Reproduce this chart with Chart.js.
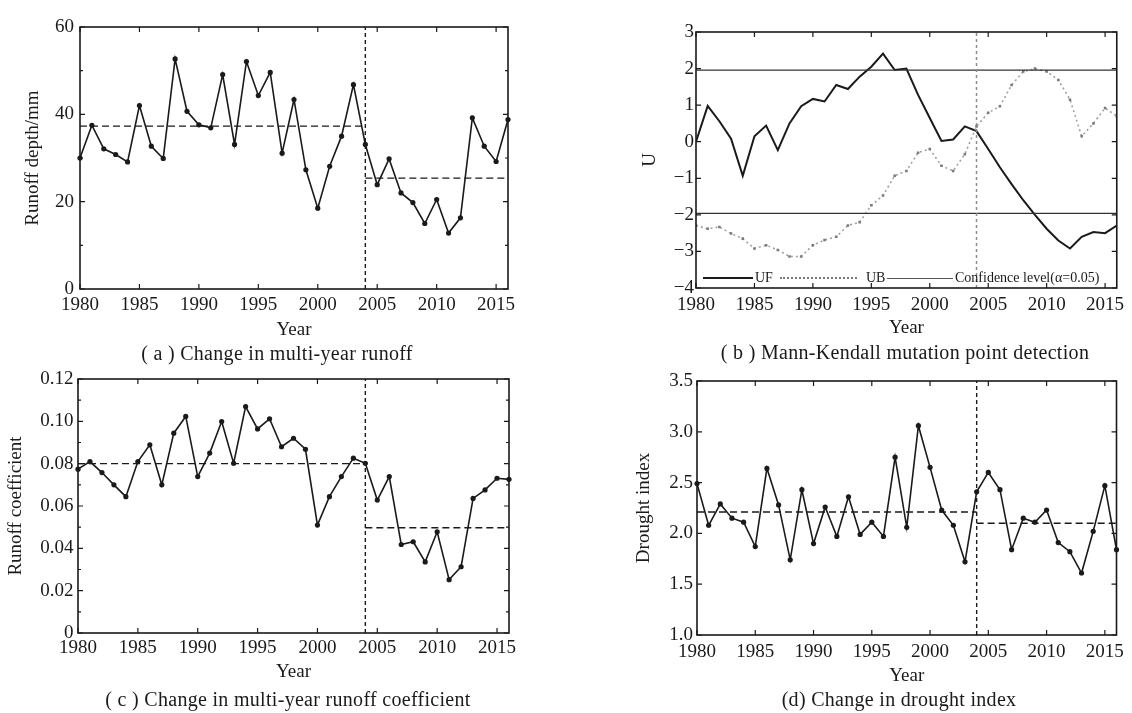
<!DOCTYPE html>
<html>
<head>
<meta charset="utf-8">
<script src="https://cdn.jsdelivr.net/npm/chart.js@4.4.1/dist/chart.umd.min.js"></script>
<style>
  body { margin: 0; background: #fff; }
  #page { position: relative; width: 1132px; height: 713px; overflow: hidden; font-family: "Liberation Serif", serif; color: #1a1a1a; }
  canvas { position: absolute; }
  .cap { position: absolute; font-size: 20px; letter-spacing: 0.3px; transform: translate(-50%, -50%); white-space: nowrap; }
  .lg { position: absolute; font-size: 14px; line-height: 1; transform: translateY(-50%); white-space: nowrap; }
  .sw { position: absolute; height: 0; }
</style>
</head>
<body>
<div id="page">
  <canvas id="chartA" width="540" height="340" style="left:0;top:0"></canvas>
  <canvas id="chartB" width="572" height="340" style="left:560px;top:0"></canvas>
  <canvas id="chartC" width="540" height="363" style="left:0;top:350px"></canvas>
  <canvas id="chartD" width="572" height="363" style="left:560px;top:350px"></canvas>

  <div class="cap" style="left:277px;top:353px">( a ) Change in multi-year runoff</div>
  <div class="cap" style="left:905px;top:352px">( b ) Mann-Kendall mutation point detection</div>
  <div class="cap" style="left:288px;top:699px">( c ) Change in multi-year runoff coefficient</div>
  <div class="cap" style="left:899px;top:699px">(d) Change in drought index</div>

  <!-- legend of (b), inside the plot frame -->
  <div class="sw" style="left:703px;top:277px;width:50px;border-top:2px solid #1a1a1a"></div>
  <div class="lg" style="left:755px;top:278px">UF</div>
  <div class="sw" style="left:780px;top:277px;width:77px;border-top:2px dotted #7a7a7a"></div>
  <div class="lg" style="left:866px;top:278px">UB</div>
  <div class="sw" style="left:887px;top:278px;width:66px;border-top:1px solid #555"></div>
  <div class="lg" style="left:955px;top:278px">Confidence level(α=0.05)</div>
</div>

<script>
const years = [1980, 1981, 1982, 1983, 1984, 1985, 1986, 1987, 1988, 1989,
  1990, 1991, 1992, 1993, 1994, 1995, 1996, 1997, 1998, 1999,
  2000, 2001, 2002, 2003, 2004, 2005, 2006, 2007, 2008, 2009,
  2010, 2011, 2012, 2013, 2014, 2015, 2016];

// (a) runoff depth, mm
const runoffDepth = [30.0, 37.5, 32.1, 30.8, 29.1, 42.0, 32.7, 29.9, 52.7, 40.7,
  37.6, 36.9, 49.1, 33.1, 52.1, 44.3, 49.6, 31.1, 43.4, 27.3,
  18.5, 28.1, 35.0, 46.8, 33.1, 23.9, 29.8, 22.0, 19.8, 15.0,
  20.5, 12.8, 16.3, 39.2, 32.7, 29.2, 38.8];

// (b) Mann-Kendall statistics
const ufStat = [0, 0.98, 0.56, 0.08, -0.93, 0.15, 0.44, -0.23, 0.5, 0.97,
  1.17, 1.1, 1.55, 1.44, 1.78, 2.05, 2.41, 1.96, 2.0, 1.28,
  0.65, 0.02, 0.06, 0.42, 0.29, -0.2, -0.7, -1.16, -1.6, -2.0,
  -2.38, -2.7, -2.92, -2.6, -2.47, -2.5, -2.29];
const ubStat = [-2.29, -2.38, -2.33, -2.51, -2.65, -2.92, -2.83, -2.96, -3.14, -3.14,
  -2.83, -2.69, -2.6, -2.29, -2.2, -1.74, -1.47, -0.93, -0.8, -0.3,
  -0.2, -0.66, -0.8, -0.34, 0.42, 0.79, 0.97, 1.55, 1.92, 2.0,
  1.92, 1.69, 1.15, 0.15, 0.5, 0.92, 0.7];
const confidence = [1.96, -1.96];

// (c) runoff coefficient
const runoffCoef = [0.0774, 0.081, 0.0758, 0.070, 0.0644, 0.081, 0.0889, 0.070, 0.0944, 0.1023,
  0.0739, 0.085, 0.0999, 0.0802, 0.107, 0.0964, 0.1012, 0.088, 0.092, 0.0868,
  0.051, 0.0644, 0.0739, 0.0826, 0.0802, 0.0628, 0.0739, 0.0418, 0.0431, 0.0336,
  0.0478, 0.0252, 0.0313, 0.0636, 0.0676, 0.0731, 0.0726];

// (d) drought index
const droughtIndex = [2.49, 2.08, 2.29, 2.15, 2.11, 1.87, 2.64, 2.28, 1.74, 2.43,
  1.90, 2.26, 1.97, 2.36, 1.99, 2.11, 1.97, 2.75, 2.06, 3.06,
  2.65, 2.23, 2.08, 1.72, 2.41, 2.60, 2.43, 1.84, 2.15, 2.11,
  2.23, 1.91, 1.82, 1.61, 2.02, 2.47, 1.84];

// mean before / after the change point
const changeYear = 2004;
const runoffMeans = [37.3, 25.4];
const coefMeans = [0.080, 0.0497];
const droughtMeans = [2.21, 2.10];

const FONT = 'Liberation Serif';
const INK = '#1a1a1a';
const GREY = '#8c8c8c';
const firstYear = years[0];
const lastYear = years[years.length - 1];

const toPoints = vals => years.map((yr, i) => ({ x: yr, y: vals[i] }));

// box frame with inward tick marks on all four sides
const framePlugin = {
  id: 'frame',
  afterDatasetsDraw(chart, args, opts) {
    const { ctx, chartArea: a, scales: { x, y } } = chart;
    ctx.save();
    ctx.strokeStyle = INK;
    ctx.lineWidth = 1.6;
    ctx.strokeRect(a.left, a.top, a.right - a.left, a.bottom - a.top);
    ctx.lineWidth = 1.2;
    ctx.beginPath();
    x.ticks.forEach(t => {
      const px = x.getPixelForValue(t.value);
      ctx.moveTo(px, a.bottom); ctx.lineTo(px, a.bottom - 5);
      ctx.moveTo(px, a.top); ctx.lineTo(px, a.top + 5);
    });
    y.ticks.forEach(t => {
      const py = y.getPixelForValue(t.value);
      ctx.moveTo(a.left, py); ctx.lineTo(a.left + 5, py);
      ctx.moveTo(a.right, py); ctx.lineTo(a.right - 5, py);
    });
    if (opts.minor) {
      for (let v = y.min + opts.minor; v < y.max; v += opts.minor * 2) {
        const py = y.getPixelForValue(v);
        ctx.moveTo(a.left, py); ctx.lineTo(a.left + 3, py);
        ctx.moveTo(a.right, py); ctx.lineTo(a.right - 3, py);
      }
    }
    ctx.stroke();
    ctx.restore();
  }
};

function seriesLine(vals) {
  return {
    data: toPoints(vals), borderColor: INK, borderWidth: 1.6,
    pointRadius: 2.6, pointBackgroundColor: INK, pointBorderWidth: 0, clip: 5
  };
}

function changeLines(means, yMin, yMax) {
  const dashed = { borderColor: INK, borderWidth: 1.4, borderDash: [7, 4], pointRadius: 0 };
  return [
    { ...dashed, data: [{ x: firstYear, y: means[0] }, { x: changeYear, y: means[0] }] },
    { ...dashed, data: [{ x: changeYear, y: means[1] }, { x: lastYear, y: means[1] }] },
    { ...dashed, borderDash: [4, 3], data: [{ x: changeYear, y: yMin }, { x: changeYear, y: yMax }] }
  ];
}

function makeChart(id, p) {
  const font = { family: FONT, size: 19, lineHeight: 1 };
  return new Chart(document.getElementById(id), {
    type: 'line',
    data: { datasets: p.datasets },
    plugins: [framePlugin],
    options: {
      responsive: false,
      animation: false,
      events: [],
      layout: { padding: p.pad },
      plugins: { legend: { display: false }, tooltip: { enabled: false }, frame: { minor: p.minor || 0 } },
      scales: {
        x: {
          type: 'linear', min: firstYear, max: lastYear,
          afterFit: s => { s.height = p.xh; },
          grid: { display: false, drawTicks: false }, border: { display: false },
          ticks: { stepSize: 5, includeBounds: false, autoSkip: false, maxRotation: 0,
            padding: p.xPad, color: INK, font, callback: v => String(v) },
          title: { display: true, text: 'Year', color: INK, font, padding: 0 }
        },
        y: {
          min: p.yMin, max: p.yMax,
          afterFit: s => { s.width = p.yw; },
          grid: { display: false, drawTicks: false }, border: { display: false },
          ticks: { stepSize: p.step, padding: p.yPad, color: INK, font, callback: p.fmt },
          title: { display: true, text: p.yTitle, color: INK, font, padding: { top: p.yTitlePad, bottom: 0 } }
        }
      }
    }
  });
}

makeChart('chartA', {
  pad: { left: 0, top: 27, right: 32, bottom: 0.5 }, xh: 50.5, yw: 80, xPad: 6.5, yPad: 6,
  yMin: 0, yMax: 60, step: 20, minor: 10, fmt: v => String(v),
  yTitle: 'Runoff depth/mm', yTitlePad: 23.5,
  datasets: [...changeLines(runoffMeans, 0, 60), seriesLine(runoffDepth)]
});

makeChart('chartB', {
  pad: { left: 0, top: 32, right: 15, bottom: 2.5 }, xh: 49.5, yw: 136, xPad: 7.5, yPad: 2,
  yMin: -4, yMax: 3, step: 1, fmt: v => (v < 0 ? '\u2212' + Math.abs(v) : String(v)),
  yTitle: 'U', yTitlePad: 80.5,
  datasets: [
    { data: [{ x: changeYear, y: -4 }, { x: changeYear, y: 3 }], borderColor: GREY, borderWidth: 1.5, borderDash: [3, 3], pointRadius: 0 },
    { data: [{ x: firstYear, y: confidence[0] }, { x: lastYear, y: confidence[0] }], borderColor: '#333', borderWidth: 1.3, pointRadius: 0 },
    { data: [{ x: firstYear, y: confidence[1] }, { x: lastYear, y: confidence[1] }], borderColor: '#333', borderWidth: 1.3, pointRadius: 0 },
    { data: toPoints(ubStat), borderColor: '#a0a0a0', borderWidth: 1.6, borderDash: [2, 3],
      pointRadius: 1.8, pointStyle: 'rect', pointBackgroundColor: '#7a7a7a', pointBorderWidth: 0 },
    { data: toPoints(ufStat), borderColor: INK, borderWidth: 2, pointRadius: 0 }
  ]
});

makeChart('chartC', {
  pad: { left: 0, top: 29, right: 31, bottom: 31.5 }, xh: 48.5, yw: 78, xPad: 5.5, yPad: 4.5,
  yMin: 0, yMax: 0.12, step: 0.02, minor: 0.01, fmt: v => (v === 0 ? '0' : v.toFixed(2)),
  yTitle: 'Runoff coefficient', yTitlePad: 6.5,
  datasets: [...changeLines(coefMeans, 0, 0.12), seriesLine(runoffCoef)]
});

makeChart('chartD', {
  pad: { left: 0, top: 31, right: 15.5, bottom: 27.5 }, xh: 50.5, yw: 137, xPad: 7.5, yPad: 4,
  yMin: 1, yMax: 3.5, step: 0.5, fmt: v => v.toFixed(1),
  yTitle: 'Drought index', yTitlePad: 74.5,
  datasets: [...changeLines(droughtMeans, 1, 3.5), seriesLine(droughtIndex)]
});
</script>
</body>
</html>
